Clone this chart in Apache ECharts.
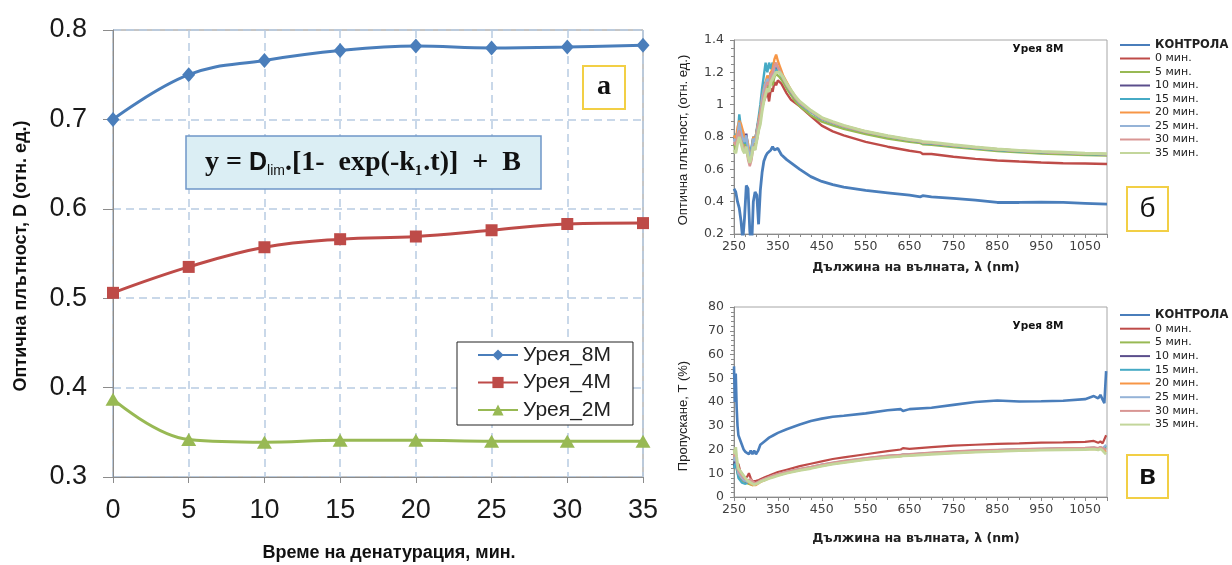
<!DOCTYPE html>
<html>
<head>
<meta charset="utf-8">
<title>Урея – денатурация</title>
<script src="https://cdn.jsdelivr.net/npm/echarts@6.0.0/dist/echarts.min.js"></script>
<style>
  html, body { margin: 0; padding: 0; background: #fff; }
  #chart { width: 1232px; height: 565px; }
</style>
</head>
<body>
<div id="chart"></div>
<script>
// ---- (а) кинетика при 3 концентрации урея ----
const times = [0, 5, 10, 15, 20, 25, 30, 35];
const urea8 = [0.700, 0.750, 0.766, 0.777, 0.782, 0.780, 0.781, 0.783];
const urea4 = [0.506, 0.535, 0.557, 0.566, 0.569, 0.576, 0.583, 0.584];
const urea2 = [0.387, 0.342, 0.339, 0.341, 0.341, 0.340, 0.340, 0.340];
const ureaNames = ['Урея_8М', 'Урея_4М', 'Урея_2М'];

// ---- (б) оптична плътност, спектри ----
const specNames = ['КОНТРОЛА', '0 мин.', '5 мин.', '10 мин.', '15 мин.', '20 мин.', '25 мин.', '30 мин.', '35 мин.'];
const wlAbs = [250, 254, 258, 262, 266, 270, 274, 278, 282, 286, 290, 294, 298, 302, 306, 310, 314, 318, 322, 326,
  330, 334, 338, 342, 346, 350, 354, 358, 362, 370, 380, 390, 400, 425, 450, 475, 500, 550, 600, 650,
  675, 680, 700, 750, 800, 850, 900, 950, 1000, 1050, 1100];
const absControl = [0.48, 0.46, 0.40, 0.36, 0.28, 0.16, 0.30, 0.50, 0.48, 0.22, 0.10, 0.40, 0.46, 0.44, 0.26, 0.47, 0.58, 0.65, 0.68, 0.70,
  0.70, 0.72, 0.74, 0.72, 0.73, 0.73, 0.71, 0.69, 0.68, 0.66, 0.64, 0.62, 0.60, 0.555, 0.525, 0.505, 0.49, 0.47, 0.455, 0.44,
  0.43, 0.437, 0.43, 0.42, 0.41, 0.395, 0.395, 0.397, 0.395, 0.39, 0.385];
const abs0 = [0.78, 0.80, 0.76, 0.86, 0.80, 0.84, 0.78, 0.72, 0.68, 0.66, 0.70, 0.76, 0.74, 0.78, 0.84, 0.90, 0.98, 1.02, 1.05, 1.08,
  1.02, 1.10, 1.08, 1.14, 1.12, 1.15, 1.15, 1.13, 1.11, 1.07, 1.03, 1.01, 0.99, 0.93, 0.87, 0.835, 0.81, 0.77, 0.74, 0.715,
  0.705, 0.695, 0.695, 0.678, 0.665, 0.655, 0.648, 0.642, 0.638, 0.636, 0.633];
const abs5 = [0.76, 0.72, 0.78, 0.84, 0.80, 0.76, 0.74, 0.77, 0.70, 0.65, 0.68, 0.76, 0.74, 0.80, 0.86, 0.90, 1.00, 1.05, 1.10, 1.12,
  1.10, 1.15, 1.12, 1.17, 1.19, 1.18, 1.17, 1.16, 1.14, 1.10, 1.06, 1.02, 0.99, 0.935, 0.895, 0.872, 0.85, 0.818, 0.79, 0.77,
  0.762, 0.755, 0.752, 0.738, 0.725, 0.713, 0.705, 0.698, 0.693, 0.689, 0.685];
const abs10 = [0.80, 0.77, 0.82, 0.86, 0.84, 0.80, 0.78, 0.82, 0.74, 0.70, 0.72, 0.80, 0.78, 0.84, 0.90, 0.95, 1.05, 1.10, 1.14, 1.12,
  1.16, 1.20, 1.16, 1.20, 1.23, 1.22, 1.21, 1.19, 1.17, 1.13, 1.08, 1.045, 1.01, 0.96, 0.915, 0.89, 0.868, 0.832, 0.805, 0.782,
  0.772, 0.765, 0.763, 0.748, 0.735, 0.723, 0.714, 0.707, 0.702, 0.697, 0.693];
const abs15 = [0.79, 0.82, 0.78, 0.94, 0.85, 0.80, 0.76, 0.79, 0.73, 0.68, 0.74, 0.80, 0.77, 0.85, 0.92, 1.00, 1.10, 1.18, 1.26, 1.20,
  1.26, 1.22, 1.26, 1.18, 1.22, 1.21, 1.20, 1.18, 1.16, 1.12, 1.075, 1.04, 1.005, 0.955, 0.91, 0.886, 0.865, 0.83, 0.802, 0.78,
  0.77, 0.763, 0.76, 0.745, 0.732, 0.72, 0.712, 0.705, 0.70, 0.695, 0.691];
const abs20 = [0.81, 0.78, 0.86, 0.90, 0.88, 0.84, 0.78, 0.80, 0.76, 0.68, 0.70, 0.80, 0.78, 0.84, 0.90, 0.96, 1.04, 1.10, 1.14, 1.18,
  1.16, 1.20, 1.22, 1.28, 1.31, 1.27, 1.24, 1.21, 1.18, 1.14, 1.09, 1.05, 1.015, 0.962, 0.918, 0.892, 0.87, 0.834, 0.806, 0.783,
  0.773, 0.766, 0.764, 0.749, 0.736, 0.724, 0.715, 0.708, 0.703, 0.698, 0.694];
const abs25 = [0.79, 0.75, 0.81, 0.89, 0.83, 0.79, 0.77, 0.81, 0.73, 0.67, 0.71, 0.79, 0.77, 0.83, 0.89, 0.93, 1.03, 1.09, 1.13, 1.16,
  1.13, 1.19, 1.15, 1.23, 1.25, 1.23, 1.21, 1.19, 1.17, 1.13, 1.085, 1.045, 1.01, 0.96, 0.916, 0.89, 0.868, 0.833, 0.806, 0.783,
  0.774, 0.767, 0.764, 0.749, 0.736, 0.724, 0.715, 0.708, 0.703, 0.698, 0.694];
const abs30 = [0.77, 0.75, 0.80, 0.84, 0.78, 0.75, 0.72, 0.74, 0.66, 0.62, 0.66, 0.74, 0.72, 0.80, 0.88, 0.94, 1.00, 1.06, 1.10, 1.14,
  1.12, 1.18, 1.20, 1.24, 1.26, 1.23, 1.21, 1.19, 1.16, 1.12, 1.08, 1.04, 1.01, 0.96, 0.914, 0.889, 0.866, 0.831, 0.804, 0.781,
  0.772, 0.766, 0.763, 0.748, 0.735, 0.723, 0.714, 0.707, 0.702, 0.697, 0.693];
const abs35 = [0.72, 0.70, 0.76, 0.80, 0.76, 0.72, 0.70, 0.74, 0.68, 0.64, 0.68, 0.74, 0.72, 0.78, 0.84, 0.88, 0.96, 1.02, 1.06, 1.10,
  1.08, 1.14, 1.16, 1.18, 1.20, 1.20, 1.20, 1.19, 1.17, 1.13, 1.09, 1.05, 1.02, 0.965, 0.92, 0.895, 0.872, 0.835, 0.808, 0.785,
  0.776, 0.77, 0.767, 0.752, 0.738, 0.726, 0.717, 0.71, 0.705, 0.70, 0.697];

// ---- (в) пропускане, спектри ----
const wlTrans = [250, 252, 254, 256, 258, 260, 264, 268, 272, 276, 280, 284, 288, 292, 296, 300, 305, 310, 320, 330,
  340, 350, 370, 400, 425, 450, 475, 500, 550, 600, 630, 635, 650, 700, 750, 800, 850, 900, 950, 1000,
  1050, 1070, 1080, 1085, 1090, 1094, 1098];
const trControl = [55, 40, 52, 38, 30, 26, 24, 22, 20, 19, 18.5, 18, 19.5, 18, 19.5, 18, 19.5, 22, 23.5, 25,
  26, 27, 28.5, 30.5, 32, 33, 33.8, 34.2, 35.2, 36.5, 37, 36.2, 37, 37.6, 38.8, 40, 40.6, 40.2, 40.3, 40.5,
  41.2, 42.5, 41.5, 43, 41, 39.5, 53];
const tr0 = [12, 15, 13, 16, 12, 14, 11, 10, 8, 7.5, 8.5, 10, 8, 6.5, 6.5, 6.8, 7, 7.5, 8.3, 9,
  9.8, 10.5, 11.5, 13, 14, 15, 16, 16.7, 18, 19.3, 20, 20.6, 20.3, 21, 21.6, 22, 22.4, 22.6, 22.9, 23,
  23.2, 23.6, 22.8, 23.4, 22.6, 23, 26];
const tr5 = [14, 17, 15, 12, 10, 9, 8, 7, 6.5, 6, 6, 5.5, 5, 5, 5.2, 5.4, 6, 6.5, 7.2, 8,
  8.6, 9.2, 10.2, 11.4, 12.2, 13.2, 14, 14.7, 15.9, 16.9, 17.3, 17.5, 17.6, 18.2, 18.7, 19.1, 19.4, 19.7, 19.9, 20.1,
  20.2, 20.4, 20.2, 20.5, 20.1, 20.7, 21];
const tr10 = [13, 16, 14, 13, 11, 10, 9, 8, 7, 6.5, 6.2, 6, 5.8, 5.5, 5.4, 5.5, 6, 6.6, 7.4, 8.1,
  8.8, 9.4, 10.4, 11.6, 12.4, 13.4, 14.2, 14.9, 16.1, 17.1, 17.5, 17.7, 17.8, 18.4, 18.9, 19.3, 19.6, 19.9, 20.1, 20.3,
  20.4, 20.6, 20.4, 20.7, 20.3, 20.9, 20];
const tr15 = [12, 14, 13, 12, 10, 8, 7, 6, 5.5, 5.5, 6, 6.5, 7, 6, 5.5, 5.6, 6.1, 6.7, 7.5, 8.2,
  8.9, 9.5, 10.5, 11.7, 12.5, 13.5, 14.3, 15, 16.2, 17.2, 17.6, 17.8, 17.9, 18.5, 19, 19.4, 19.7, 20, 20.2, 20.4,
  20.5, 20.7, 20.4, 20.8, 20.4, 21, 21.5];
const tr20 = [16, 19, 17, 15, 12, 10, 9, 8, 7.5, 7, 6.5, 6, 5.5, 5, 4.8, 5, 5.6, 6.3, 7.1, 7.9,
  8.5, 9.1, 10.1, 11.3, 12.1, 13.1, 13.9, 14.6, 15.8, 16.8, 17.2, 17.4, 17.5, 18.1, 18.6, 19, 19.3, 19.6, 19.8, 20,
  20.1, 20.3, 20.1, 20.4, 20, 20.5, 19];
const tr25 = [15, 18, 16, 14, 12, 10, 9, 8, 7, 6.5, 6.5, 7, 6.5, 6, 5.6, 5.7, 6.2, 6.8, 7.6, 8.3,
  9, 9.6, 10.6, 11.8, 12.6, 13.6, 14.4, 15.1, 16.3, 17.3, 17.7, 17.9, 18, 18.6, 19.1, 19.5, 19.8, 20.1, 20.3, 20.5,
  20.6, 20.8, 20.5, 20.9, 20.5, 21.1, 22];
const tr30 = [17, 20, 18, 16, 13, 11, 10, 9, 8, 7.5, 7, 6.5, 7.5, 6.5, 6, 5.8, 6.3, 6.9, 7.7, 8.4,
  9.1, 9.7, 10.7, 11.9, 12.7, 13.7, 14.5, 15.2, 16.4, 17.4, 17.8, 18, 18.1, 18.7, 19.2, 19.6, 19.9, 20.2, 20.4, 20.6,
  20.7, 20.9, 20.6, 21, 20.6, 21.2, 20];
const tr35 = [20, 18, 21, 17, 14, 12, 11, 10, 9, 8, 7, 6.5, 6, 5.5, 5.2, 5.3, 5.8, 6.4, 7.1, 7.8,
  8.4, 9, 10, 11.2, 12, 13, 13.8, 14.5, 15.7, 16.7, 17.1, 17.3, 17.4, 18, 18.5, 18.9, 19.2, 19.5, 19.7, 19.9,
  20, 20.2, 19.8, 20.3, 19.6, 20, 18];

const ureaColors = ['#4a7ebb', '#be4b48', '#98b954'];
const specColors = ['#4a7ebb', '#be4b48', '#98b954', '#5b4e8c', '#46aac5', '#f79646', '#95b3d7', '#d99694', '#c3d69b'];

const chart = echarts.init(document.getElementById('chart'), null, { renderer: 'canvas' });

const sans = 'Liberation Sans, Arial, sans-serif';
const wide = 'DejaVu Sans, sans-serif';
const serif = 'Liberation Serif, Times New Roman, serif';

const series = [];
// (а)
[urea8, urea4, urea2].forEach((arr, k) => {
  series.push({
    name: ureaNames[k],
    type: 'line',
    xAxisIndex: 0, yAxisIndex: 0,
    smooth: 0.4,
    symbol: ['diamond', 'rect', 'triangle'][k],
    symbolSize: [[13, 15], 12, [15, 13]][k],
    lineStyle: { color: ureaColors[k], width: 3 },
    itemStyle: { color: ureaColors[k] },
    data: times.map((t, i) => [t, arr[i]])
  });
});
// (б)
[absControl, abs0, abs5, abs10, abs15, abs20, abs25, abs30, abs35].forEach((arr, k) => {
  series.push({
    name: specNames[k],
    type: 'line',
    xAxisIndex: 1, yAxisIndex: 1,
    symbol: 'none',
    lineStyle: { color: specColors[k], width: k === 0 ? 2.8 : (k === 8 ? 3 : 2.4) },
    itemStyle: { color: specColors[k] },
    data: wlAbs.map((w, i) => [w, arr[i]])
  });
});
// (в)
[trControl, tr0, tr5, tr10, tr15, tr20, tr25, tr30, tr35].forEach((arr, k) => {
  series.push({
    name: specNames[k],
    type: 'line',
    xAxisIndex: 2, yAxisIndex: 2,
    symbol: 'none',
    lineStyle: { color: specColors[k], width: k === 0 ? 2.6 : (k === 8 ? 2.8 : 2.2) },
    itemStyle: { color: specColors[k] },
    data: wlTrans.map((w, i) => [w, arr[i]])
  });
});

const specAxisX = (gi) => ({
  type: 'value', gridIndex: gi, min: 250, max: 1100, interval: 100,
  axisLine: { lineStyle: { color: '#8a8a8a' } },
  axisTick: { show: true, length: 4, lineStyle: { color: '#8a8a8a' } },
  minorTick: { show: true, splitNumber: 4, length: 3, lineStyle: { color: '#8a8a8a' } },
  axisLabel: { fontSize: 12.5, fontFamily: wide, color: '#404040', margin: 6, showMaxLabel: false, formatter: v => String(v) },
  splitLine: { show: false }
});

const legendText = { fontSize: 11, lineHeight: 12, fontFamily: wide, color: '#222' };
const specLegendData = specNames.map((n, k) => k === 0
  ? { name: n, textStyle: { fontWeight: 'bold', fontSize: 11.5 } }
  : { name: n });

const specLegend = (top, gap) => ({
  data: specLegendData, orient: 'vertical', left: 1120, top: top,
  icon: 'rect', itemWidth: 30, itemHeight: 2, itemGap: gap, padding: 0,
  textStyle: legendText, selectedMode: false
});

const option = {
  animation: false,
  backgroundColor: '#fff',
  grid: [
    { left: 113, right: 589, top: 30, bottom: 88, show: true, borderColor: '#8c8c8c', borderWidth: 1 },
    { left: 734, right: 125, top: 40, bottom: 331, show: true, borderColor: '#a6a6a6', borderWidth: 1 },
    { left: 734, right: 125, top: 307, bottom: 68, show: true, borderColor: '#a6a6a6', borderWidth: 1 }
  ],
  xAxis: [
    {
      type: 'value', gridIndex: 0, min: 0, max: 35, interval: 5,
      axisLine: { lineStyle: { color: '#8c8c8c' } },
      axisTick: { show: true, length: 6, lineStyle: { color: '#8c8c8c' } },
      axisLabel: { fontSize: 27, fontFamily: sans, color: '#1a1a1a', margin: 20 },
      splitLine: { show: true, lineStyle: { color: '#b8cbe2', type: [8, 5], width: 1.5 } }
    },
    specAxisX(1),
    specAxisX(2)
  ],
  yAxis: [
    {
      type: 'value', gridIndex: 0, min: 0.3, max: 0.8, interval: 0.1,
      axisLine: { show: true, lineStyle: { color: '#8c8c8c' } },
      axisTick: { show: true, length: 10, lineStyle: { color: '#8c8c8c' } },
      axisLabel: { fontSize: 27, fontFamily: sans, color: '#1a1a1a', margin: 26, formatter: v => v.toFixed(1) },
      splitLine: { show: true, lineStyle: { color: '#b8cbe2', type: [8, 5], width: 1.5 } }
    },
    {
      type: 'value', gridIndex: 1, min: 0.2, max: 1.4, interval: 0.2,
      axisLine: { show: true, lineStyle: { color: '#8a8a8a' } },
      axisTick: { show: true, length: 4, lineStyle: { color: '#8a8a8a' } },
      minorTick: { show: true, splitNumber: 4, length: 3, lineStyle: { color: '#8a8a8a' } },
      axisLabel: { fontSize: 12.5, fontFamily: wide, color: '#404040', margin: 10 },
      splitLine: { show: false }
    },
    {
      type: 'value', gridIndex: 2, min: 0, max: 80, interval: 10,
      axisLine: { show: true, lineStyle: { color: '#8a8a8a' } },
      axisTick: { show: true, length: 4, lineStyle: { color: '#8a8a8a' } },
      minorTick: { show: true, splitNumber: 5, length: 3, lineStyle: { color: '#8a8a8a' } },
      axisLabel: { fontSize: 12.5, fontFamily: wide, color: '#404040', margin: 10 },
      splitLine: { show: false }
    }
  ],
  legend: [
    {
      data: ureaNames, orient: 'vertical', left: 457, top: 342,
      itemWidth: 40, itemHeight: 14, itemGap: 5.5, padding: [2, 22, 4, 20],
      borderColor: '#222', borderWidth: 1, backgroundColor: '#fff',
      textStyle: { fontSize: 21, lineHeight: 22, fontFamily: sans, color: '#222' },
      selectedMode: false
    },
    specLegend(39, 1.5),
    specLegend(309, 1.7)
  ],
  graphic: [
    // формула
    { type: 'rect', z: 50, shape: { x: 186, y: 136, width: 355, height: 53 },
      style: { fill: '#dbeef4', stroke: '#6f97c8', lineWidth: 1.5 } },
    { type: 'text', z: 51, x: 363, y: 163,
      style: {
        text: '{t|y = }{d|D}{s|lim}{t|.[1-  exp(-k}{s2|1}{t|.t)]  +  B}',
        align: 'center', verticalAlign: 'middle',
        rich: {
          t: { fontFamily: serif, fontWeight: 'bold', fontSize: 28, lineHeight: 30, fill: '#111' },
          d: { fontFamily: sans, fontWeight: 'bold', fontSize: 25, lineHeight: 30, fill: '#111' },
          s: { fontFamily: sans, fontSize: 14, lineHeight: 14, padding: [16, 0, 0, 0], fill: '#111' },
          s2: { fontFamily: serif, fontWeight: 'bold', fontSize: 15, lineHeight: 14, padding: [16, 1, 0, 0], fill: '#111' }
        }
      } },
    // етикет (а)
    { type: 'rect', z: 50, shape: { x: 583, y: 66, width: 42, height: 43 },
      style: { fill: '#fff', stroke: '#f2cf45', lineWidth: 2 } },
    { type: 'text', z: 51, x: 604, y: 87,
      style: { text: 'а', align: 'center', verticalAlign: 'middle', font: 'bold 28px ' + serif, fill: '#111' } },
    // етикет (б)
    { type: 'rect', z: 50, shape: { x: 1127, y: 187, width: 41, height: 44 },
      style: { fill: '#fff', stroke: '#f2cf45', lineWidth: 2 } },
    { type: 'text', z: 51, x: 1147.5, y: 209,
      style: { text: 'б', align: 'center', verticalAlign: 'middle', font: '28px ' + sans, fill: '#111' } },
    // етикет (в)
    { type: 'rect', z: 50, shape: { x: 1127, y: 455, width: 41, height: 43 },
      style: { fill: '#fff', stroke: '#f2cf45', lineWidth: 2 } },
    { type: 'text', z: 51, x: 1147.5, y: 477,
      style: { text: 'в', align: 'center', verticalAlign: 'middle', font: 'bold 27px ' + sans, fill: '#111' } },
    // надписи Урея 8М
    { type: 'text', z: 51, x: 1038, y: 49,
      style: { text: 'Урея 8М', align: 'center', verticalAlign: 'middle', font: 'bold 10.5px ' + wide, fill: '#111' } },
    { type: 'text', z: 51, x: 1038, y: 326,
      style: { text: 'Урея 8М', align: 'center', verticalAlign: 'middle', font: 'bold 10.5px ' + wide, fill: '#111' } },
    // заглавия на осите
    { type: 'text', z: 51, x: 21, y: 256, rotation: Math.PI / 2,
      style: { text: 'Оптична плътност, D (отн. ед.)', align: 'center', verticalAlign: 'middle', font: 'bold 18px ' + sans, fill: '#111' } },
    { type: 'text', z: 51, x: 389, y: 553,
      style: { text: 'Време на денатурация, мин.', align: 'center', verticalAlign: 'middle', font: 'bold 18px ' + sans, fill: '#111' } },
    { type: 'text', z: 51, x: 683, y: 140, rotation: Math.PI / 2,
      style: { text: 'Оптична плътност, (отн. ед.)', align: 'center', verticalAlign: 'middle', font: '13px ' + sans, fill: '#222' } },
    { type: 'text', z: 51, x: 916, y: 268,
      style: { text: 'Дължина на вълната, λ (nm)', align: 'center', verticalAlign: 'middle', font: 'bold 12.5px ' + wide, fill: '#222' } },
    { type: 'text', z: 51, x: 683, y: 416, rotation: Math.PI / 2,
      style: { text: 'Пропускане, T (%)', align: 'center', verticalAlign: 'middle', font: '13px ' + sans, fill: '#222' } },
    { type: 'text', z: 51, x: 916, y: 539,
      style: { text: 'Дължина на вълната, λ (nm)', align: 'center', verticalAlign: 'middle', font: 'bold 12.5px ' + wide, fill: '#222' } }
  ],
  series: series
};

chart.setOption(option);
</script>
</body>
</html>
